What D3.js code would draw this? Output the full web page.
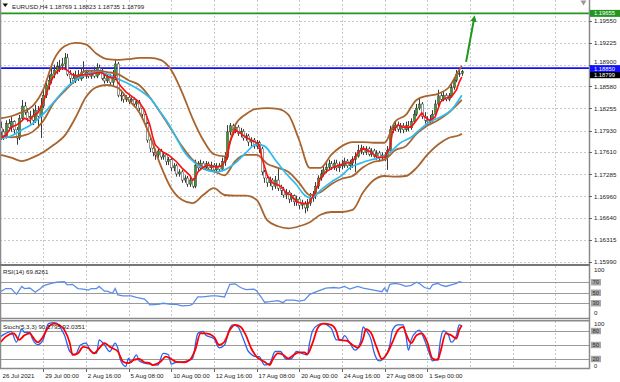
<!DOCTYPE html>
<html>
<head>
<meta charset="utf-8">
<script src="https://cdn.jsdelivr.net/npm/d3@7"></script>
<style>
  html, body { margin: 0; padding: 0; background: #fff; }
  svg { display: block; font-family: "Liberation Sans", Arial, sans-serif; }
</style>
</head>
<body>
<svg id="chart" width="620" height="382"></svg>
<script>
// EURUSD H4, 26 Jul 2021 08:00 -> 3 Sep 2021 04:00 (174 bars)
const symbolTitle = 'EURUSD,H4  1.18769 1.18823 1.18735 1.18799';
const firstOpen = 1.1797;

const closes = [
  1.1791,1.1785,1.1803,1.1797,1.1806,1.1794,1.1782,1.1811,1.1829,1.1820,
  1.1811,1.1814,1.1808,1.1823,1.1814,1.1829,1.1845,1.1860,1.1867,1.1876,
  1.1882,1.1887,1.1888,1.1891,1.1900,1.1876,1.1870,1.1866,1.1875,1.1869,
  1.1878,1.1873,1.1879,1.1873,1.1878,1.1873,1.1885,1.1881,1.1870,1.1866,
  1.1872,1.1864,1.1873,1.1891,1.1845,1.1844,1.1839,1.1842,1.1836,1.1839,
  1.1832,1.1835,1.1826,1.1817,1.1803,1.1779,1.1767,1.1761,1.1757,1.1763,
  1.1754,1.1757,1.1747,1.1750,1.1738,1.1741,1.1729,1.1732,1.1720,1.1723,
  1.1714,1.1720,1.1711,1.1742,1.1738,1.1745,1.1739,1.1744,1.1738,1.1742,
  1.1735,1.1741,1.1736,1.1747,1.1753,1.1791,1.1800,1.1794,1.1798,1.1789,
  1.1792,1.1782,1.1785,1.1776,1.1779,1.1770,1.1775,1.1766,1.1732,1.1723,
  1.1716,1.1720,1.1711,1.1720,1.1708,1.1705,1.1698,1.1702,1.1692,1.1697,
  1.1688,1.1692,1.1683,1.1686,1.1679,1.1686,1.1694,1.1697,1.1711,1.1723,
  1.1729,1.1735,1.1739,1.1744,1.1739,1.1745,1.1738,1.1742,1.1741,1.1748,
  1.1741,1.1745,1.1750,1.1755,1.1764,1.1767,1.1761,1.1766,1.1758,1.1763,
  1.1755,1.1760,1.1753,1.1757,1.1754,1.1764,1.1794,1.1797,1.1801,1.1795,
  1.1800,1.1794,1.1800,1.1797,1.1806,1.1817,1.1826,1.1832,1.1814,1.1808,
  1.1806,1.1808,1.1817,1.1832,1.1844,1.1839,1.1845,1.1839,1.1844,1.1856,
  1.1867,1.1876,1.18769,1.18799
];

const highs = [
  1.1806,1.1795,1.1808,1.1810,1.1813,1.1808,1.1798,1.1816,1.1838,1.1835,
  1.1826,1.1822,1.1825,1.1831,1.1829,1.1841,1.1853,1.1864,1.1875,1.1885,
  1.1890,1.1894,1.1897,1.1900,1.1907,1.1906,1.1882,1.1878,1.1881,1.1882,
  1.1885,1.1895,1.1882,1.1882,1.1882,1.1887,1.1892,1.1890,1.1885,1.1875,
  1.1876,1.1876,1.1882,1.1897,1.1894,1.1853,1.1847,1.1845,1.1845,1.1842,
  1.1842,1.1838,1.1838,1.1829,1.1820,1.1806,1.1783,1.1772,1.1766,1.1766,
  1.1766,1.1761,1.1760,1.1754,1.1753,1.1745,1.1744,1.1736,1.1735,1.1727,
  1.1726,1.1725,1.1723,1.1750,1.1748,1.1750,1.1748,1.1748,1.1747,1.1747,
  1.1745,1.1745,1.1745,1.1753,1.1761,1.1801,1.1804,1.1803,1.1803,1.1801,
  1.1797,1.1795,1.1789,1.1788,1.1783,1.1782,1.1779,1.1778,1.1769,1.1735,
  1.1727,1.1725,1.1723,1.1726,1.1738,1.1713,1.1710,1.1707,1.1705,1.1701,
  1.1699,1.1697,1.1695,1.1691,1.1689,1.1692,1.1701,1.1704,1.1717,1.1727,
  1.1735,1.1741,1.1745,1.1750,1.1748,1.1750,1.1750,1.1747,1.1750,1.1753,
  1.1751,1.1750,1.1755,1.1761,1.1772,1.1772,1.1770,1.1770,1.1769,1.1767,
  1.1766,1.1764,1.1763,1.1761,1.1761,1.1770,1.1800,1.1803,1.1807,1.1806,
  1.1804,1.1804,1.1806,1.1807,1.1811,1.1823,1.1832,1.1841,1.1835,1.1820,
  1.1814,1.1816,1.1823,1.1838,1.1853,1.1848,1.1850,1.1848,1.1848,1.1862,
  1.1872,1.1882,1.1885,1.18823
];

const lows = [
  1.1779,1.1779,1.1781,1.1792,1.1791,1.1788,1.1772,1.1779,1.1808,1.1816,
  1.1806,1.1803,1.1801,1.1804,1.1797,1.1782,1.1826,1.1841,1.1853,1.1862,
  1.1870,1.1876,1.1879,1.1882,1.1885,1.1873,1.1860,1.1862,1.1863,1.1866,
  1.1866,1.1870,1.1869,1.1870,1.1869,1.1870,1.1870,1.1875,1.1867,1.1862,
  1.1863,1.1860,1.1860,1.1867,1.1842,1.1836,1.1834,1.1835,1.1832,1.1832,
  1.1828,1.1828,1.1822,1.1811,1.1798,1.1775,1.1761,1.1755,1.1750,1.1753,
  1.1750,1.1750,1.1742,1.1742,1.1733,1.1733,1.1725,1.1725,1.1716,1.1716,
  1.1710,1.1710,1.1708,1.1708,1.1733,1.1735,1.1735,1.1736,1.1733,1.1733,
  1.1730,1.1732,1.1732,1.1733,1.1741,1.1750,1.1786,1.1789,1.1789,1.1785,
  1.1783,1.1778,1.1778,1.1770,1.1770,1.1766,1.1766,1.1760,1.1727,1.1716,
  1.1710,1.1711,1.1705,1.1707,1.1704,1.1698,1.1694,1.1692,1.1686,1.1688,
  1.1682,1.1682,1.1677,1.1677,1.1671,1.1674,1.1682,1.1688,1.1692,1.1707,
  1.1719,1.1725,1.1730,1.1735,1.1735,1.1735,1.1733,1.1732,1.1736,1.1738,
  1.1738,1.1735,1.1738,1.1732,1.1753,1.1758,1.1757,1.1757,1.1755,1.1754,
  1.1753,1.1750,1.1747,1.1748,1.1748,1.1735,1.1760,1.1789,1.1792,1.1791,
  1.1789,1.1789,1.1791,1.1792,1.1794,1.1803,1.1814,1.1823,1.1810,1.1803,
  1.1800,1.1801,1.1806,1.1814,1.1829,1.1836,1.1836,1.1836,1.1836,1.1841,
  1.1853,1.1864,1.1872,1.18735
];

// Bollinger bands, read every 4 bars (last point = bar 173)
const bbIdx = d3.range(0, 173, 4).concat([173]);
const bbUpper = [1.1811,1.1814,1.1820,1.1829,1.1853,1.1897,1.1917,1.1922,1.1920,1.1906,1.1898,1.1897,1.1898,1.1900,1.1900,1.1897,1.1882,1.1850,1.1811,1.1779,1.1758,1.1755,1.1801,1.1817,1.1825,1.1826,1.1825,1.1816,1.1779,1.1738,1.1738,1.1757,1.1770,1.1776,1.1776,1.1775,1.1775,1.1806,1.1816,1.1838,1.1844,1.1847,1.1856,1.1882,1.1888];
const bbMid   = [1.1785,1.1783,1.1785,1.1791,1.1807,1.1834,1.1851,1.1867,1.1881,1.1881,1.1879,1.1876,1.1867,1.1860,1.1842,1.1819,1.1795,1.1770,1.1750,1.1738,1.1733,1.1727,1.1748,1.1757,1.1757,1.1744,1.1738,1.1732,1.1716,1.1698,1.1702,1.1714,1.1722,1.1726,1.1739,1.1747,1.1750,1.1764,1.1770,1.1788,1.1800,1.1808,1.1819,1.1834,1.1838];
const bbLower = [1.1757,1.1753,1.1748,1.1753,1.1761,1.1772,1.1785,1.1811,1.1842,1.1857,1.1860,1.1856,1.1838,1.1820,1.1786,1.1742,1.1708,1.1691,1.1686,1.1698,1.1708,1.1698,1.1697,1.1697,1.1691,1.1661,1.1652,1.1649,1.1652,1.1658,1.1669,1.1673,1.1673,1.1676,1.1702,1.1720,1.1726,1.1725,1.1726,1.1738,1.1757,1.1772,1.1782,1.1786,1.1788];

// fast MA (red) and slow MA (cyan), [bar, price]
const maFast = [[0,1.1782],[2,1.1786],[4,1.1798],[6,1.1801],[8,1.1807],[9,1.1811],[11,1.1807],[12,1.1814],[14,1.1819],[16,1.1835],[17,1.1845],[19,1.1867],[21,1.1879],[23,1.1885],[25,1.1882],[27,1.1875],[29,1.1873],[31,1.1875],[34,1.1876],[36,1.1878],[38,1.1878],[40,1.1873],[42,1.1870],[43,1.1873],[44,1.1864],[45,1.1859],[47,1.1850],[49,1.1844],[51,1.1838],[52,1.1835],[54,1.1823],[56,1.1801],[57,1.1785],[58,1.1772],[60,1.1764],[61,1.1761],[63,1.1757],[66,1.1747],[68,1.1738],[71,1.1727],[72,1.1720],[73,1.1723],[74,1.1732],[76,1.1739],[78,1.1742],[81,1.1739],[83,1.1741],[85,1.1753],[86,1.1776],[88,1.1794],[90,1.1789],[92,1.1783],[94,1.1779],[96,1.1775],[97,1.1772],[98,1.1753],[100,1.1727],[102,1.1716],[104,1.1713],[106,1.1708],[107,1.1701],[109,1.1698],[111,1.1688],[113,1.1686],[115,1.1685],[116,1.1688],[118,1.1702],[120,1.1723],[122,1.1732],[125,1.1739],[127,1.1742],[130,1.1745],[132,1.1747],[134,1.1760],[136,1.1767],[139,1.1761],[141,1.1754],[144,1.1753],[146,1.1767],[147,1.1791],[149,1.1801],[151,1.1798],[154,1.1798],[156,1.1808],[158,1.1819],[159,1.1813],[161,1.1808],[163,1.1813],[165,1.1835],[167,1.1841],[169,1.1842],[171,1.1853],[172,1.1864],[173,1.1872]];
const maSlow = [[0,1.1781],[4,1.1785],[8,1.1794],[12,1.1803],[16,1.1817],[20,1.1835],[24,1.1853],[28,1.1867],[32,1.1875],[36,1.1879],[40,1.1876],[44,1.1869],[48,1.1862],[52,1.1853],[56,1.1841],[60,1.1820],[63,1.1803],[66,1.1782],[69,1.1761],[73,1.1745],[77,1.1735],[81,1.1732],[84,1.1735],[88,1.1745],[92,1.1760],[96,1.1773],[99,1.1770],[103,1.1750],[107,1.1730],[111,1.1713],[114,1.1698],[116,1.1694],[118,1.1697],[120,1.1705],[124,1.1717],[128,1.1727],[131,1.1738],[135,1.1745],[139,1.1750],[143,1.1754],[146,1.1761],[150,1.1775],[154,1.1783],[158,1.1797],[161,1.1806],[165,1.1813],[169,1.1823],[173,1.1845]];

// RSI(14), [bar, value]
const rsi = [[0,52],[2,58],[4,58],[6,47],[8,62],[9,58],[11,59],[13,51],[15,58],[16,63],[19,68],[21,70],[24,71],[25,65],[27,66],[29,58],[31,57],[33,55],[34,58],[36,58],[37,62],[39,53],[40,53],[42,49],[43,58],[44,46],[46,44],[49,44],[51,41],[54,38],[55,33],[56,27],[59,28],[61,30],[64,28],[66,28],[68,25],[71,26],[72,28],[74,42],[76,42],[79,44],[81,44],[84,42],[86,66],[88,67],[90,60],[92,56],[95,57],[96,54],[98,40],[99,32],[101,33],[104,35],[106,31],[107,36],[110,36],[112,34],[114,36],[116,47],[118,51],[120,55],[122,59],[125,60],[127,59],[129,62],[131,57],[132,59],[134,62],[136,59],[139,56],[141,54],[143,52],[144,59],[145,52],[146,66],[148,68],[150,66],[152,62],[154,64],[156,70],[157,68],[159,60],[161,57],[162,65],[164,68],[165,65],[167,62],[169,65],[171,68],[172,71],[173,69.83]];

// Stochastic(5,3,3) main (%K) and signal (%D), [bar, value]
const stochK = [[0,68],[2,75],[4,79],[6,56],[7,71],[8,84],[9,77],[11,77],[12,63],[14,51],[16,61],[17,82],[18,96],[20,98],[22,93],[23,82],[24,71],[26,36],[28,29],[30,50],[32,54],[34,36],[36,32],[37,61],[39,50],[41,36],[43,54],[44,43],[45,18],[47,4],[48,21],[49,13],[51,29],[52,16],[54,11],[56,9],[59,7],[61,32],[63,29],[64,9],[66,13],[68,13],[70,16],[72,21],[74,75],[76,79],[77,71],[80,64],[82,44],[84,50],[86,86],[87,93],[89,89],[91,64],[93,36],[96,25],[97,25],[99,7],[101,11],[103,36],[105,36],[107,20],[109,20],[111,36],[113,32],[115,29],[116,57],[117,80],[119,93],[121,96],[123,91],[124,86],[126,61],[128,61],[129,70],[131,54],[133,39],[135,57],[136,89],[137,82],[139,61],[140,36],[142,16],[144,23],[146,50],[147,82],[149,93],[151,93],[152,71],[153,39],[154,61],[156,79],[157,82],[159,61],[161,29],[162,16],[164,21],[165,61],[166,80],[168,71],[169,56],[171,71],[172,93],[173,90.18]];
const stochD = [[0,56],[2,68],[5,75],[7,61],[9,71],[11,75],[12,68],[14,56],[16,68],[18,89],[20,96],[22,93],[24,82],[26,54],[27,29],[29,32],[31,46],[33,43],[35,32],[37,43],[39,54],[41,46],[42,43],[44,36],[46,14],[48,11],[50,18],[52,20],[54,13],[56,11],[57,7],[60,14],[62,25],[64,20],[66,14],[69,13],[71,18],[73,39],[75,75],[77,75],[80,68],[82,50],[84,57],[86,82],[88,93],[90,89],[92,71],[94,43],[96,25],[99,14],[101,7],[102,18],[104,32],[106,29],[108,21],[110,29],[112,34],[114,34],[115,30],[117,54],[119,87],[121,96],[124,93],[126,79],[127,61],[130,59],[132,50],[134,44],[136,64],[137,84],[139,75],[141,46],[143,20],[145,32],[147,56],[149,82],[151,89],[152,75],[154,54],[156,71],[158,75],[160,57],[162,21],[164,18],[165,36],[167,75],[169,71],[171,64],[172,82],[173,92.04]];

// axis labels
const priceTicks = ['1.19550','1.19225','1.18900','1.18580','1.18255','1.17930','1.17610','1.17285','1.16960','1.16640','1.16315','1.15990'];
const timeTickBars = [0,16,32,48,64,80,96,112,128,144,160];
const timeTickLabels = ['26 Jul 2021','29 Jul 00:00','2 Aug 16:00','5 Aug 08:00','10 Aug 00:00','12 Aug 16:00','17 Aug 08:00','20 Aug 00:00','24 Aug 16:00','27 Aug 08:00','1 Sep 00:00'];
const rsiLevels = [70, 50, 30];
const stochLevels = [80, 50, 20];

// drawn objects
const greenLevel = 1.19655;
const blueLevel = 1.18850;
const bidPrice = 1.18799;
const arrowPath = [[174.6, 1.1894], [177.6, 1.1958]];

// ---------------------------------------------------------------
const svg = d3.select('#chart');
const axisX = 589;
const main = { top: 0, bottom: 264 };
const rsiPane = { top: 266, bottom: 318 };
const stochPane = { top: 321, bottom: 368 };

const x = d3.scaleLinear().domain([0, 220]).range([0.5, 0.5 + 220 * 8 / 3]);
const yPrice = d3.scaleLinear().domain([1.15964, 1.19852]).range([main.bottom, main.top]);
const yRsi = d3.scaleLinear().domain([0, 100]).range([319, 266.5]);
const yStoch = d3.scaleLinear().domain([0, 100]).range([368.3, 321.7]);

const defs = svg.append('defs');
defs.append('clipPath').attr('id', 'clipMain')
  .append('rect').attr('x', 0).attr('y', main.top).attr('width', axisX).attr('height', main.bottom - main.top);
defs.append('marker').attr('id', 'arrowHead')
  .attr('viewBox', '0 0 10 10').attr('refX', 5).attr('refY', 5)
  .attr('markerWidth', 3.2).attr('markerHeight', 3.2).attr('orient', 'auto')
  .append('path').attr('d', 'M0,0 L10,5 L0,10 Z').attr('fill', '#22961f');

// grid
const grid = svg.append('g').attr('stroke', '#c8c8c8').attr('stroke-width', 1).attr('stroke-dasharray', '2,2');
const gridBars = d3.range(16, 221, 16);
[main, rsiPane, stochPane].forEach(p => {
  grid.selectAll(null).data(gridBars).join('line')
    .attr('x1', d => Math.round(x(d)) + 0.5).attr('x2', d => Math.round(x(d)) + 0.5)
    .attr('y1', p.top).attr('y2', p.bottom);
});
grid.selectAll(null).data(priceTicks).join('line')
  .attr('x1', 0).attr('x2', axisX)
  .attr('y1', d => Math.round(yPrice(+d)) + 0.5).attr('y2', d => Math.round(yPrice(+d)) + 0.5);

// horizontal levels
svg.append('line').attr('x1', 0).attr('x2', axisX)
  .attr('y1', yPrice(greenLevel)).attr('y2', yPrice(greenLevel))
  .attr('stroke', '#22961f').attr('stroke-width', 1.6);
svg.append('line').attr('x1', 0).attr('x2', axisX)
  .attr('y1', yPrice(blueLevel)).attr('y2', yPrice(blueLevel))
  .attr('stroke', '#1010ff').attr('stroke-width', 1.8);

// candles
const candles = closes.map((c, i) => ({ i, o: i ? closes[i - 1] : firstOpen, h: highs[i], l: lows[i], c }));
const cg = svg.append('g').attr('clip-path', 'url(#clipMain)');
cg.selectAll('line.wick').data(candles).join('line')
  .attr('class', 'wick')
  .attr('x1', d => Math.round(x(d.i)) + 0.5).attr('x2', d => Math.round(x(d.i)) + 0.5)
  .attr('y1', d => yPrice(d.h)).attr('y2', d => yPrice(d.l))
  .attr('stroke', '#3c3c3c').attr('stroke-width', 1);
cg.selectAll('rect.body').data(candles).join('rect')
  .attr('class', 'body')
  .attr('x', d => Math.round(x(d.i)) - 0.5)
  .attr('width', 2)
  .attr('y', d => yPrice(Math.max(d.o, d.c)))
  .attr('height', d => Math.max(0.8, Math.abs(yPrice(d.o) - yPrice(d.c))))
  .attr('fill', d => d.c >= d.o ? '#3a9a2a' : '#ffffff')
  .attr('stroke', '#333')
  .attr('stroke-width', 0.5);

// indicators on price
const lineMain = d3.line().x(d => x(d[0])).y(d => yPrice(d[1]));
const smooth = d3.line().x(d => x(d[0])).y(d => yPrice(d[1])).curve(d3.curveMonotoneX);
const ig = svg.append('g').attr('clip-path', 'url(#clipMain)').attr('fill', 'none');
[bbUpper, bbMid, bbLower].forEach(band => {
  ig.append('path').attr('d', smooth(bbIdx.map((b, k) => [b, band[k]])))
    .attr('stroke', '#a8642e').attr('stroke-width', 1.8);
});
ig.append('path').attr('d', smooth(maSlow)).attr('stroke', '#2cbcf0').attr('stroke-width', 1.7);
ig.append('path').attr('d', lineMain(maFast)).attr('stroke', '#ff1010').attr('stroke-width', 1.6);

// arrow
svg.append('path').attr('d', lineMain(arrowPath))
  .attr('stroke', '#22961f').attr('stroke-width', 2).attr('fill', 'none')
  .attr('marker-end', 'url(#arrowHead)');

// RSI pane
svg.append('g').selectAll('line').data(rsiLevels).join('line')
  .attr('x1', 0).attr('x2', axisX)
  .attr('y1', d => Math.round(yRsi(d)) + 0.5).attr('y2', d => Math.round(yRsi(d)) + 0.5)
  .attr('stroke', '#9a9a9a');
svg.append('path').attr('d', d3.line().x(d => x(d[0])).y(d => yRsi(d[1]))(rsi))
  .attr('fill', 'none').attr('stroke', '#5b8ceb').attr('stroke-width', 1.3);

// Stochastic pane
svg.append('g').selectAll('line').data(stochLevels).join('line')
  .attr('x1', 0).attr('x2', axisX)
  .attr('y1', d => Math.round(yStoch(d)) + 0.5).attr('y2', d => Math.round(yStoch(d)) + 0.5)
  .attr('stroke', '#9a9a9a');
const stochLine = d3.line().x(d => x(d[0])).y(d => yStoch(d[1])).curve(d3.curveMonotoneX);
svg.append('path').attr('d', stochLine(stochK))
  .attr('fill', 'none').attr('stroke', '#2c62ea').attr('stroke-width', 1.3);
svg.append('path').attr('d', stochLine(stochD))
  .attr('fill', 'none').attr('stroke', '#ff0000').attr('stroke-width', 1.8);

// frames
const frame = svg.append('g').attr('stroke', '#8a8a8a').attr('fill', 'none');
frame.append('line').attr('x1', 0.5).attr('x2', 0.5).attr('y1', 0).attr('y2', 368.5).attr('stroke-width', 1.5);
frame.append('line').attr('x1', axisX + 0.5).attr('x2', axisX + 0.5).attr('y1', 0).attr('y2', 369).attr('stroke-width', 1.5);
frame.append('line').attr('x1', 0).attr('x2', axisX + 1).attr('y1', 265).attr('y2', 265).attr('stroke-width', 2).attr('stroke', '#777');
frame.append('line').attr('x1', 0).attr('x2', axisX + 1).attr('y1', 318.5).attr('y2', 318.5).attr('stroke-width', 1.5);
frame.append('line').attr('x1', 0).attr('x2', axisX + 1).attr('y1', 320.7).attr('y2', 320.7).attr('stroke-width', 1.5);
frame.append('line').attr('x1', 0).attr('x2', axisX + 1).attr('y1', 368.5).attr('y2', 368.5).attr('stroke-width', 1.5);

// text
const txt = svg.append('g').attr('font-size', 6.2).attr('fill', '#222');

// title
svg.append('path').attr('d', 'M2.5,3.5 L8,3.5 L5.25,7 Z').attr('fill', '#111');
txt.append('text').attr('x', 12).attr('y', 8.6).text(symbolTitle);
svg.append('path').attr('d', 'M580.5,0.5 L586.5,0.5 L583.5,5.5 Z').attr('fill', '#999');

// price axis (the 1.18900 label sits under the blue level tag, as in MT4)
const pa = txt.append('g');
pa.selectAll('line').data(priceTicks).join('line')
  .attr('x1', axisX).attr('x2', axisX + 3)
  .attr('y1', d => Math.round(yPrice(+d)) + 0.5).attr('y2', d => Math.round(yPrice(+d)) + 0.5)
  .attr('stroke', '#666');
pa.selectAll('text').data(priceTicks).join('text')
  .attr('x', axisX + 5).attr('y', d => yPrice(+d)).attr('dy', d => d === '1.18900' ? '-0.1em' : '0.36em').text(d => d);

function priceTag(value, fill, color, shift) {
  const yy = yPrice(value) + shift;
  svg.append('rect').attr('x', axisX + 1).attr('y', yy - 3.5).attr('width', 30).attr('height', 7).attr('fill', fill);
  svg.append('text').attr('x', axisX + 5).attr('y', yy).attr('dy', '0.36em')
    .attr('font-size', 5.8).attr('fill', color).text(value.toFixed(5));
}
priceTag(bidPrice, '#000', '#fff', 3.2);
priceTag(blueLevel, '#1010ff', '#fff', 0.6);
priceTag(greenLevel, '#22961f', '#fff', 0);

// indicator pane labels
txt.append('text').attr('x', 3).attr('y', 273.5).text('RSI(14) 69.8261');
txt.append('text').attr('x', 3).attr('y', 328.5).text('Stoch(5,3,3) 90.1795 92.0351');

function levelTag(yy, label) {
  svg.append('rect').attr('x', axisX + 2).attr('y', yy - 3.2).attr('width', 10).attr('height', 6.4).attr('fill', '#a6a6a6');
  svg.append('text').attr('x', axisX + 3.5).attr('y', yy).attr('dy', '0.34em')
    .attr('font-size', 5.8).attr('fill', '#333').text(label);
}
rsiLevels.forEach(v => levelTag(yRsi(v), v));
stochLevels.forEach(v => levelTag(yStoch(v), v));
txt.append('text').attr('x', axisX + 5).attr('y', 272).text('100');
txt.append('text').attr('x', axisX + 5).attr('y', 315).text('0');
txt.append('text').attr('x', axisX + 5).attr('y', 326).text('100');
txt.append('text').attr('x', axisX + 5).attr('y', 367.6).attr('font-size', 5.6).text('0');

// time axis
const ta = txt.append('g');
ta.selectAll('line').data(timeTickBars.slice(1)).join('line')
  .attr('x1', d => Math.round(x(d)) + 0.5).attr('x2', d => Math.round(x(d)) + 0.5)
  .attr('y1', 369).attr('y2', 372).attr('stroke', '#666');
ta.selectAll('text').data(timeTickBars).join('text')
  .attr('x', d => x(d) + 2).attr('y', 377.5)
  .text((d, k) => timeTickLabels[k]);
</script>
</body>
</html>
